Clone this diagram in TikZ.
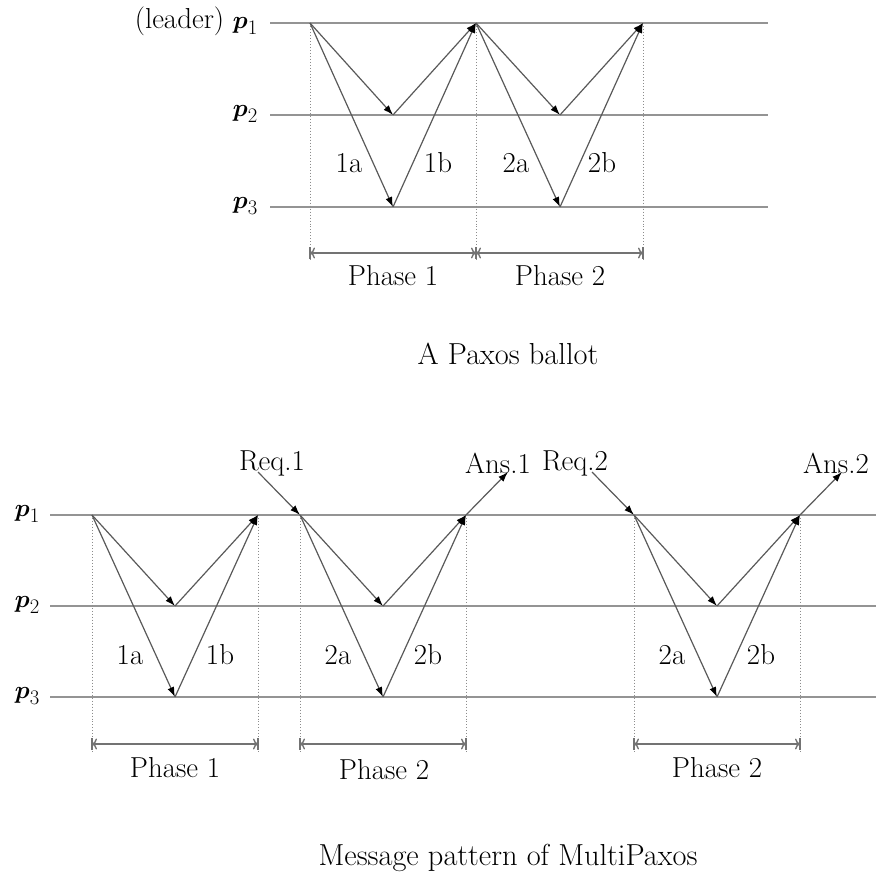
\documentclass[tikz,border=0pt]{standalone}
\usepackage{amsmath}
\usetikzlibrary{arrows.meta}
\begin{document}
\begin{tikzpicture}[x=1bp,y=-1bp,
  every node/.style={font=\fontsize{29}{33}\selectfont, inner sep=0pt},
  captionlabel/.style={font=\fontsize{30.5}{35}\selectfont},
  proc/.style={draw=black!42, line width=2.8bp},
  msg/.style={draw=black!65, line width=1.2bp, -{Latex[length=10bp,width=7bp,color=black]}},
  guide/.style={draw=black!45, line width=1bp, dotted},
  span/.style={draw=black!55, line width=1.4bp, {To[length=5bp,width=11bp]}-{To[length=5bp,width=11bp]}},
  barmark/.style={draw=black!55, line width=1.4bp}]
\useasboundingbox (0,0) rectangle (876,878);

% ---------- Top: A Paxos ballot ----------
\coordinate (tl1) at (270,23);  \coordinate (tr1) at (768,23);
\coordinate (tl2) at (270,115); \coordinate (tr2) at (768,115);
\coordinate (tl3) at (270,207); \coordinate (tr3) at (768,207);
\draw[proc] (tl1) -- (tr1);
\draw[proc] (tl2) -- (tr2);
\draw[proc] (tl3) -- (tr3);
\node[anchor=east] (tp1) at (258,21) {(leader) $\boldsymbol{p}_1$};
\node[anchor=east] (tp2) at (258,114) {$\boldsymbol{p}_2$};
\node[anchor=east] (tp3) at (258,206) {$\boldsymbol{p}_3$};

\coordinate (ta) at (310,23);
\coordinate (tb2) at (393,115); \coordinate (tb3) at (393,207);
\coordinate (tc) at (476,23);
\coordinate (td2) at (560,115); \coordinate (td3) at (560,207);
\coordinate (te) at (643,23);
\coordinate (tga) at (310,262); \coordinate (tgc) at (476,262); \coordinate (tge) at (643,262);
\draw[guide] (ta) -- (tga);
\draw[guide] (tc) -- (tgc);
\draw[guide] (te) -- (tge);

\draw[msg] (ta) -- (tb2);
\draw[msg] (ta) -- (tb3);
\draw[msg] (tb2) -- (tc);
\draw[msg] (tb3) -- (tc);
\draw[msg] (tc) -- (td2);
\draw[msg] (tc) -- (td3);
\draw[msg] (td2) -- (te);
\draw[msg] (td3) -- (te);

\node (t1a) at (349,163) {1a};
\node (t1b) at (438,163) {1b};
\node (t2a) at (516,163) {2a};
\node (t2b) at (602,163) {2b};

\coordinate (tsa) at (310,253); \coordinate (tsc) at (476,253); \coordinate (tse) at (643,253);
\draw[span] (tsa) -- (tsc);
\draw[span] (tsc) -- (tse);
\foreach \c in {tsa,tsc,tse} \draw[barmark] ([yshift=-6bp]\c) -- ([yshift=6bp]\c);
\node (tph1) at (393,276) {Phase 1};
\node (tph2) at (560,276) {Phase 2};

\node[captionlabel] (cap1) at (508,354) {A Paxos ballot};

% ---------- Bottom: MultiPaxos ----------
\coordinate (bl1) at (50,515);  \coordinate (br1) at (876,515);
\coordinate (bl2) at (50,606);  \coordinate (br2) at (876,606);
\coordinate (bl3) at (50,697);  \coordinate (br3) at (876,697);
\draw[proc] (bl1) -- (br1);
\draw[proc] (bl2) -- (br2);
\draw[proc] (bl3) -- (br3);
\node[anchor=east] (bp1) at (40,514) {$\boldsymbol{p}_1$};
\node[anchor=east] (bp2) at (40,605) {$\boldsymbol{p}_2$};
\node[anchor=east] (bp3) at (40,696) {$\boldsymbol{p}_3$};

\coordinate (ba) at (92,515);
\coordinate (bb2) at (175,606); \coordinate (bb3) at (175,697);
\coordinate (bc) at (258,515);
\coordinate (bd) at (300,515);
\coordinate (be2) at (383,606); \coordinate (be3) at (383,697);
\coordinate (bf) at (466,515);
\coordinate (bg) at (634,515);
\coordinate (bh2) at (717,606); \coordinate (bh3) at (717,697);
\coordinate (bi) at (800,515);

\foreach \c in {ba,bc,bd,bf,bg,bi} \draw[guide] (\c) -- ([yshift=-237bp]\c);

% phase 1
\draw[msg] (ba) -- (bb2);
\draw[msg] (ba) -- (bb3);
\draw[msg] (bb2) -- (bc);
\draw[msg] (bb3) -- (bc);
% phase 2 (first)
\draw[msg] (bd) -- (be2);
\draw[msg] (bd) -- (be3);
\draw[msg] (be2) -- (bf);
\draw[msg] (be3) -- (bf);
% phase 2 (second)
\draw[msg] (bg) -- (bh2);
\draw[msg] (bg) -- (bh3);
\draw[msg] (bh2) -- (bi);
\draw[msg] (bh3) -- (bi);

% requests and answers
\node (req1) at (272,463) {Req.1};
\node (ans1) at (498,463) {Ans.1};
\node (req2) at (575,463) {Req.2};
\node (ans2) at (836,463) {Ans.2};
\coordinate (r1s) at (258,472);
\coordinate (a1e) at (508,472);
\coordinate (r2s) at (592,472);
\coordinate (a2e) at (842,472);
\draw[msg] (r1s) -- (bd);
\draw[msg] (bf) -- (a1e);
\draw[msg] (r2s) -- (bg);
\draw[msg] (bi) -- (a2e);

\node (b1a) at (130,655) {1a};
\node (b1b) at (220,655) {1b};
\node (b2a) at (338,655) {2a};
\node (b2b) at (428,655) {2b};
\node (b2c) at (672,655) {2a};
\node (b2d) at (761,655) {2b};

\coordinate (bsa) at (92,744); \coordinate (bsc) at (258,744);
\coordinate (bsd) at (300,744); \coordinate (bsf) at (466,744);
\coordinate (bsg) at (634,744); \coordinate (bsi) at (800,744);
\draw[span] (bsa) -- (bsc);
\draw[span] (bsd) -- (bsf);
\draw[span] (bsg) -- (bsi);
\foreach \c in {bsa,bsc,bsd,bsf,bsg,bsi} \draw[barmark] ([yshift=-6bp]\c) -- ([yshift=6bp]\c);
\node (bph1) at (175,768) {Phase 1};
\node (bph2) at (384,770) {Phase 2};
\node (bph3) at (717,768) {Phase 2};

\node[captionlabel] (cap2) at (508,858) {Message pattern of MultiPaxos};
\end{tikzpicture}
\end{document}
